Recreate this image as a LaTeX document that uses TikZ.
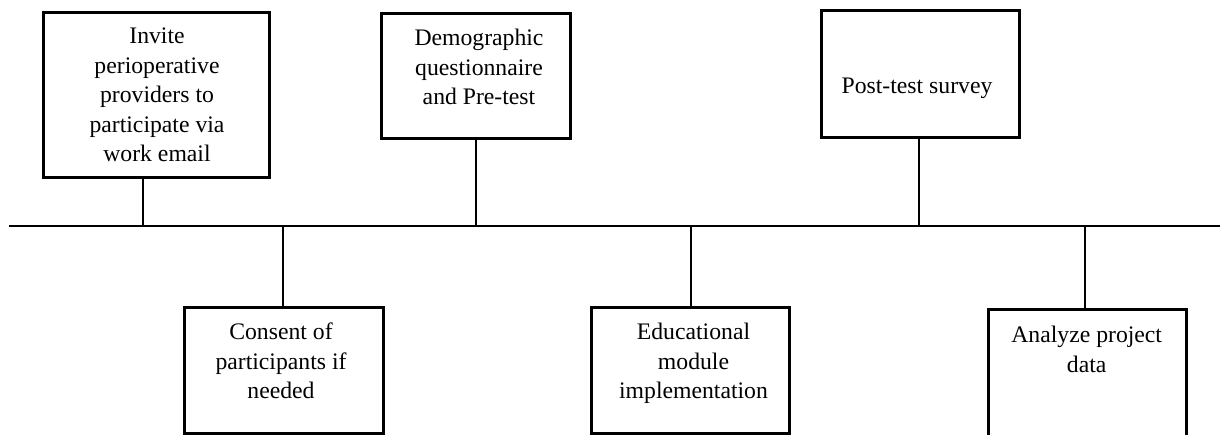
\documentclass[tikz,border=0pt]{standalone}
\usepackage{fontspec}
\setmainfont{Liberation Serif}
\begin{document}
\begin{tikzpicture}[x=1pt,y=-1pt,
  box/.style={draw=black,line width=3pt,fill=white,inner sep=0pt},
  lbl/.style={inner sep=0pt,align=center,anchor=north,font=\fontsize{23.7}{29.5}\selectfont},
  conn/.style={draw=black,line width=1.3pt}]
\useasboundingbox (0,0) rectangle (1220,434);
\clip (0,0) rectangle (1220,434);
% timeline
\coordinate (L) at (9,226);
\coordinate (R) at (1220,226);
\draw[line width=1.5pt] (L) -- (R);
% boxes
\node[box,minimum width=226pt,minimum height=165pt,anchor=north west] (b1) at (42,11) {};
\node[box,minimum width=189pt,minimum height=125pt,anchor=north west] (b2) at (380,12) {};
\node[box,minimum width=198pt,minimum height=127pt,anchor=north west] (b3) at (820,9) {};
\node[box,minimum width=199pt,minimum height=126pt,anchor=north west] (b4) at (183,306) {};
\node[box,minimum width=198pt,minimum height=126pt,anchor=north west] (b5) at (590,306) {};
\node[box,minimum width=198pt,minimum height=150pt,anchor=north west] (b6) at (987,308) {};
% labels
\node[lbl] (t1) at (157,28) {Invite\\perioperative\\providers to\\participate via\\work email};
\node[lbl] (t2) at (479,29) {Demographic\\questionnaire\\and Pre-test};
\node[lbl] (t3) at (917,78) {Post-test survey};
\node[lbl] (t4) at (281,323) {Consent of\\participants if\\needed};
\node[lbl] (t5) at (693.5,323) {Educational\\module\\implementation};
\node[lbl] (t6) at (1086.7,326) {Analyze project\\data};
% connector points on timeline
\coordinate (p1) at (143,226);
\coordinate (p2) at (476,226);
\coordinate (p3) at (919,226);
\coordinate (p4) at (283,226);
\coordinate (p5) at (691,226);
\coordinate (p6) at (1085,226);
\draw[conn] (p1) -- (p1 |- b1.south);
\draw[conn] (p2) -- (p2 |- b2.south);
\draw[conn] (p3) -- (p3 |- b3.south);
\draw[conn] (p4) -- (p4 |- b4.north);
\draw[conn] (p5) -- (p5 |- b5.north);
\draw[conn] (p6) -- (p6 |- b6.north);
\end{tikzpicture}
\end{document}
